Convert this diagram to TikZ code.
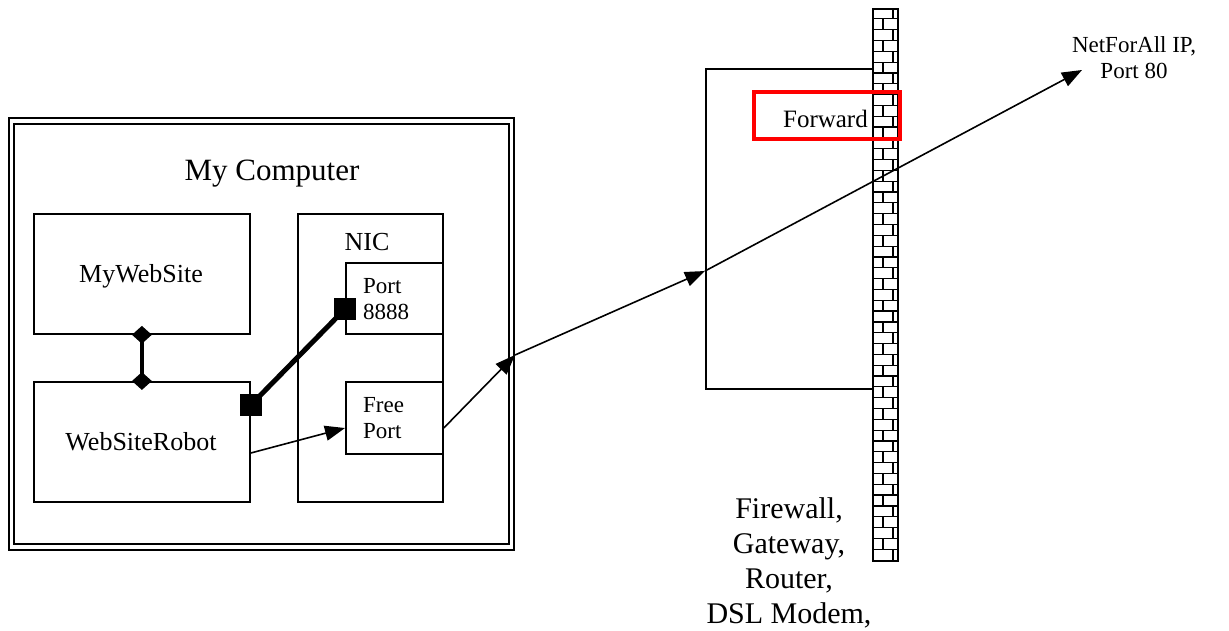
\documentclass[tikz,border=0pt]{standalone}
\usepackage{fontspec}
\setmainfont{Liberation Serif}
\usetikzlibrary{arrows.meta,shapes.geometric}
\begin{document}
\begin{tikzpicture}[x=1pt,y=-1pt,
  box/.style={draw, line width=1.8pt, inner sep=0pt, anchor=north west},
  big/.style={inner sep=0pt, font=\fontsize{31}{35}\selectfont},
  mid/.style={inner sep=0pt, font=\fontsize{26}{30}\selectfont},
  small/.style={inner sep=0pt, font=\fontsize{23}{26}\selectfont},
  arr/.style={line width=1.6pt, -{Triangle[length=20pt,width=15pt]}},
  sqr/.style={fill=black, inner sep=0pt, minimum size=22pt},
  dmd/.style={diamond, fill=black, inner sep=0pt, minimum width=20pt, minimum height=18pt},
  brick/.style={line width=1.2pt}]
\useasboundingbox (0,0) rectangle (1229,630);
% computer
\node[box, line width=2pt, minimum width=505pt, minimum height=432pt] (pc) at (8,117) {};
\node[box, line width=2pt, minimum width=495pt, minimum height=420pt] (pcin) at (13,123) {};
\node[big, anchor=base] (pct) at (272,180) {My Computer};
\node[box, minimum width=216pt, minimum height=120pt] (mws) at (33,213) {};
\node[mid, anchor=base] (mwst) at (141,282) {MyWebSite};
\node[box, minimum width=216pt, minimum height=120pt] (wsr) at (33,381) {};
\node[mid, anchor=base] (wsrt) at (141,450) {WebSiteRobot};
\node[box, minimum width=145pt, minimum height=288pt] (nic) at (297,213) {};
\node[mid, anchor=base] (nict) at (367,250) {NIC};
\node[box, minimum width=97pt, minimum height=71pt] (p8) at (345,262) {};
\node[small, anchor=north west, align=left] (p8t) at (363,278) {Port\\8888};
\node[box, minimum width=97pt, minimum height=72pt] (fp) at (345,381) {};
\node[small, anchor=north west, align=left] (fpt) at (363,397) {Free\\Port};
% connectors inside
\node[dmd] (d1) at (mws.south) {};
\node[dmd] (d2) at (mws.south |- wsr.north) {};
\draw[line width=4pt] (d1.center) -- (d2.center);
\node[sqr] (s1) at (wsr.east |- 0,405) {};
\node[sqr] (s2) at (p8.west |- 0,309) {};
\draw[line width=5pt] (s1.center) -- (s2.center);
% router
\node[box, minimum width=167pt, minimum height=320pt] (router) at (705,68) {};
% wall
\fill[white] (872,8) rectangle (897,560);
\foreach \i in {0,...,50}{
  \pgfmathsetmacro{\ya}{8+\i*10.824}
  \pgfmathsetmacro{\yb}{\ya+10.824}
  \pgfmathsetmacro{\xv}{ifthenelse(mod(\i,2)==0,893,883)}
  \draw[brick] (\xv,\ya) -- (\xv,\yb);
  \ifnum\i>0 \draw[brick] (872,\ya) -- (897,\ya); \fi
}
\node[draw, line width=2pt, inner sep=0pt, anchor=north west, minimum width=25pt, minimum height=552pt] (wall) at (872,8) {};
% forward
\node[box, draw=red, line width=4pt, minimum width=146pt, minimum height=47pt] (fwd) at (752,90) {};
\node[mid, font=\fontsize{25}{29}\selectfont, anchor=base east] (fwdt) at (868,127) {Forward};
% labels
\node[big, font=\fontsize{30}{35}\selectfont, anchor=north, align=center] (fwl) at (789,497) {Firewall,\\Gateway,\\Router,\\DSL Modem,};
\node[small, anchor=north, align=center] (nfa) at (1134,36) {NetForAll IP,\\Port 80};
% arrows
\coordinate (c1) at (pc.east |- 0,355);
\coordinate (c2) at (router.west |- 0,271);
\coordinate (c3) at (1082,70);
\draw[arr] (wsr.east |- 0,453) -- (fp.west |- 0,428);
\draw[arr] (fp.east |- 0,428) -- (c1);
\draw[arr] (c1) -- (c2);
\draw[arr] (c2) -- (c3);
\end{tikzpicture}
\end{document}
